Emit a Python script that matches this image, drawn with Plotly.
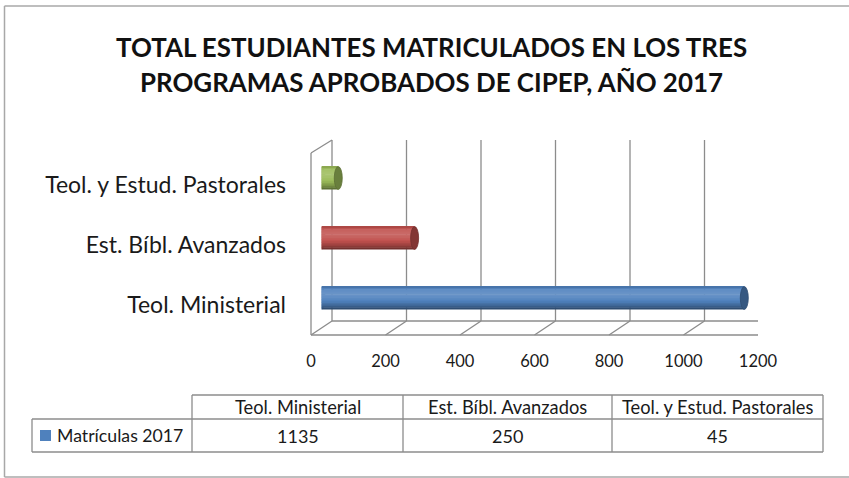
import plotly.graph_objects as go

W, H = 849, 478

# ---- data ----
categories = ["Teol. Ministerial", "Est. Bíbl. Avanzados", "Teol. y Estud. Pastorales"]
values = [1135, 250, 45]
series_name = "Matrículas 2017"
x_ticks = [0, 200, 400, 600, 800, 1000, 1200]
title_lines = ["TOTAL ESTUDIANTES MATRICULADOS EN LOS TRES",
               "PROGRAMAS APROBADOS DE CIPEP, AÑO 2017"]

# ---- styling ----
base_cols = ["#4F81BD", "#C0504D", "#9BBB59"]
grid_col = "#8C8C8C"
FONT = "Lato"
TXT = "#1A1A1A"


def hex2rgb(h):
    h = h.lstrip("#")
    return [int(h[i:i + 2], 16) for i in (0, 2, 4)]


def shade(h, f):
    r, g, b = hex2rgb(h)
    if f >= 1:
        t = f - 1
        r, g, b = [c + (255 - c) * t for c in (r, g, b)]
    else:
        r, g, b = [c * f for c in (r, g, b)]
    return "rgb(%d,%d,%d)" % (round(r), round(g), round(b))


def px(x):
    return x / W


def py(y):
    return 1 - y / H


# front plane geometry (pixels)
X0, X1 = 311, 758          # 0 .. 1200 on the front
Y_BOT, Y_TOP = 335, 155    # category axis extent on the front
DX, DY = 21, -14           # depth offset to back wall
BX, BY = DX / 2, DY / 2    # bars sit at mid depth
BACK_TOP = 140

fig = go.Figure()

cat_idx = list(range(len(categories)))
bar_w = 0.38
# brightness profile from bottom (0) to top (1) of the cylinder
profile = [0.6, 0.7, 0.8, 0.88, 0.95, 1.01, 1.06, 1.1, 1.13, 1.14, 1.13, 1.1, 1.04, 0.9]
N = len(profile)
strip = bar_w / N
for k, f in enumerate(profile):
    fig.add_trace(go.Bar(
        x=values, y=cat_idx, orientation="h",
        width=strip * 1.35, offset=-bar_w / 2 + k * strip,
        marker=dict(color=[shade(c, f) for c in base_cols], line=dict(width=0)),
        xaxis="x2", yaxis="y2", showlegend=False, hoverinfo="skip"))

shapes = []
# back wall gridlines
for v in x_ticks:
    shapes.append(dict(type="line", xref="x", yref="paper", xsizemode="pixel", xanchor=v,
                       x0=DX, x1=DX, y0=py(Y_BOT + DY), y1=py(BACK_TOP),
                       line=dict(color=grid_col, width=1.3), layer="below"))
    # floor diagonals
    shapes.append(dict(type="line", xref="x", yref="paper", xsizemode="pixel", xanchor=v,
                       ysizemode="pixel", yanchor=py(Y_BOT),
                       x0=0, x1=DX, y0=0, y1=-DY,
                       line=dict(color=grid_col, width=1.3), layer="below"))
# floor front/back edges
shapes.append(dict(type="line", xref="x", yref="paper", x0=x_ticks[0], x1=x_ticks[-1],
                   y0=py(Y_BOT), y1=py(Y_BOT), line=dict(color=grid_col, width=1.3), layer="below"))
shapes.append(dict(type="line", xref="x", yref="paper", xsizemode="pixel", xanchor=0,
                   x0=DX, x1=DX + (X1 - X0), y0=py(Y_BOT + DY), y1=py(Y_BOT + DY),
                   line=dict(color=grid_col, width=1.3), layer="below"))
# left wall
shapes.append(dict(type="line", xref="paper", yref="paper", x0=px(X0), x1=px(X0),
                   y0=py(Y_BOT), y1=py(Y_TOP - 2), line=dict(color=grid_col, width=1.3), layer="below"))
shapes.append(dict(type="line", xref="paper", yref="paper", x0=px(X0), x1=px(X0 + DX),
                   y0=py(Y_TOP - 2), y1=py(BACK_TOP), line=dict(color=grid_col, width=1.3), layer="below"))

# cylinder caps
CAP = 8
for i, v in enumerate(values):
    h2 = bar_w / 2
    # left rounded end
    shapes.append(dict(type="circle", xref="x2", yref="y2", xsizemode="pixel", xanchor=0,
                       x0=-CAP / 2, x1=CAP / 2, y0=i - h2, y1=i + h2,
                       fillcolor=shade(base_cols[i], 0.92), line=dict(width=0), layer="below"))
    # right end cap
    shapes.append(dict(type="circle", xref="x2", yref="y2", xsizemode="pixel", xanchor=v,
                       x0=-CAP / 2, x1=CAP / 2, y0=i - h2, y1=i + h2,
                       fillcolor=shade(base_cols[i], 0.68),
                       line=dict(width=0.8, color=shade(base_cols[i], 0.6)), layer="above"))

# outer border (left, top, bottom; right edge is cut off in the reference)
bcol = "#A8A8A8"
for (xa, ya, xb, yb) in [(4.5, 6, 4.5, 477), (4.5, 6, 849, 6), (4.5, 477, 849, 477)]:
    shapes.append(dict(type="line", xref="paper", yref="paper", x0=px(xa), x1=px(xb),
                       y0=py(ya), y1=py(yb), line=dict(color=bcol, width=1.5)))

# data table
T_L, T_C1, T_C2, T_C3, T_R = 32, 192, 403, 612, 823
T_TOP, T_MID, T_BOT = 395, 419, 452
tcol = "#8C8C8C"


def hline(x0, x1, y):
    shapes.append(dict(type="line", xref="paper", yref="paper", x0=px(x0), x1=px(x1),
                       y0=py(y), y1=py(y), line=dict(color=tcol, width=1.3)))


def vline(x, y0, y1):
    shapes.append(dict(type="line", xref="paper", yref="paper", x0=px(x), x1=px(x),
                       y0=py(y0), y1=py(y1), line=dict(color=tcol, width=1.3)))


hline(T_C1, T_R, T_TOP)
hline(T_L, T_R, T_MID)
hline(T_L, T_R, T_BOT)
vline(T_L, T_MID, T_BOT)
for xc in [T_C1, T_C2, T_C3, T_R]:
    vline(xc, T_TOP, T_BOT)
# legend key
shapes.append(dict(type="rect", xref="paper", yref="paper", x0=px(40), x1=px(51),
                   y0=py(441), y1=py(430), fillcolor=base_cols[0], line=dict(width=0)))

annotations = []
col_centers = [(T_C1 + T_C2) / 2, (T_C2 + T_C3) / 2, (T_C3 + T_R) / 2]
for c, cx, v in zip(categories, col_centers, values):
    annotations.append(dict(text=c, x=px(cx), y=py((T_TOP + T_MID) / 2), xref="paper", yref="paper",
                            showarrow=False, font=dict(family=FONT, size=18.3, color=TXT),
                            xanchor="center", yanchor="middle"))
    annotations.append(dict(text=str(v), x=px(cx), y=py((T_MID + T_BOT) / 2), xref="paper", yref="paper",
                            showarrow=False, font=dict(family=FONT, size=18, color=TXT),
                            xanchor="center", yanchor="middle"))
annotations.append(dict(text=series_name, x=px(55), y=py((T_MID + T_BOT) / 2), xref="paper", yref="paper",
                        showarrow=False, font=dict(family=FONT, size=17.7, color=TXT),
                        xanchor="left", yanchor="middle"))
# title
for k, line in enumerate(title_lines):
    annotations.append(dict(text="<b>" + line + "</b>", x=px(431), y=py(47 + 35 * k),
                            xref="paper", yref="paper", showarrow=False,
                            font=dict(family=FONT, size=25.9, color="#111111"),
                            xanchor="center", yanchor="middle"))

fig.update_layout(
    width=W, height=H, autosize=False,
    margin=dict(l=0, r=0, t=0, b=0, pad=0, autoexpand=False),
    paper_bgcolor="white", plot_bgcolor="rgba(0,0,0,0)",
    barmode="overlay", showlegend=False,
    xaxis=dict(domain=[px(X0), px(X1)], range=[0, 1200], tickvals=x_ticks,
               showgrid=False, zeroline=False, showline=False, ticks="", automargin=False,
               ticklabelstandoff=14,
               tickfont=dict(family=FONT, size=16.5, color=TXT), anchor="y"),
    yaxis=dict(domain=[py(Y_BOT), py(Y_TOP)], range=[-0.5, 2.5],
               tickvals=cat_idx, ticktext=categories, automargin=False,
               showgrid=False, zeroline=False, showline=False, ticks="",
               ticklabelstandoff=24,
               tickfont=dict(family=FONT, size=23, color=TXT), anchor="x"),
    xaxis2=dict(domain=[px(X0 + BX), px(X1 + BX)], range=[0, 1200], visible=False,
                automargin=False, anchor="y2"),
    yaxis2=dict(domain=[py(Y_BOT + BY), py(Y_TOP + BY)], range=[-0.5, 2.5], visible=False,
                automargin=False, anchor="x2"),
    shapes=shapes, annotations=annotations,
)

post = (
    "document.documentElement.style.overflow='hidden';"
    "document.body.style.margin='0';"
    "document.body.style.overflow='hidden';"
)
fig.write_html("out.html",
               config={"displayModeBar": False, "responsive": False},
               post_script=post)
